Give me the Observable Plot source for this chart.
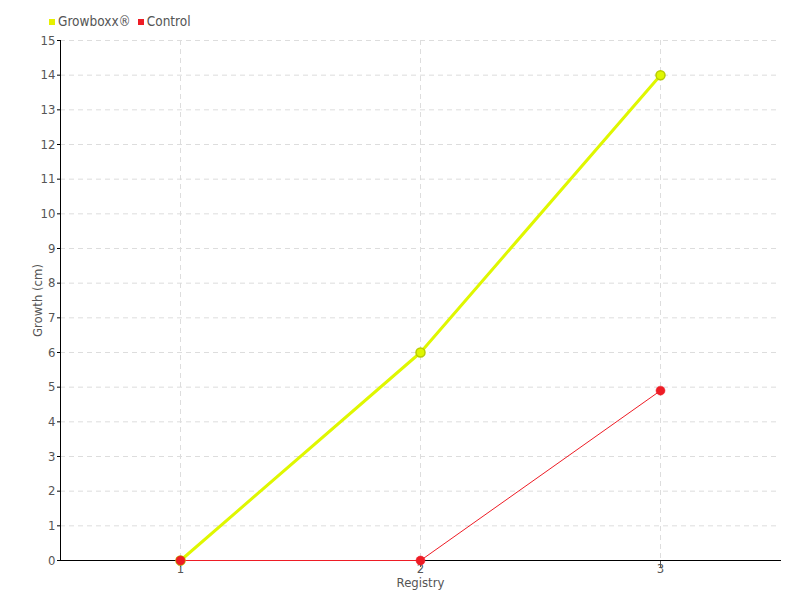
<!DOCTYPE html>
<html><head><meta charset="utf-8">
<script src="https://cdn.jsdelivr.net/npm/d3@7"></script>
<script src="https://cdn.jsdelivr.net/npm/@observablehq/plot@0.6"></script>
<style>
body{margin:0;background:#fff;font-family:"DejaVu Sans",sans-serif;font-stretch:condensed;}
svg text{font-stretch:condensed;}
#wrap{position:relative;width:800px;height:600px;}
#legend{position:absolute;left:49px;top:13px;font-size:13.5px;color:#555;display:flex;gap:7px;align-items:center;font-stretch:condensed;}
#legend span.sw{display:inline-block;width:6px;height:6px;margin-right:3px;vertical-align:middle;}
</style></head>
<body><div id="wrap"><div id="legend"></div></div>
<script>
const registry = [1, 2, 3];
const growboxx = [0, 6, 14];
const control = [0, 0, 4.9];
const yTicks = d3.range(0, 16);
const seriesNames = ["Growboxx®", "Control"];
const colors = ["#dff700", "#ee1c25"];
const swatches = ["#e6f000", "#ee1c25"];
const strokes = ["#b9cc00", "#ee1c25"];

const gData = registry.map((r, i) => ({x: r, y: growboxx[i]}));
const cData = registry.map((r, i) => ({x: r, y: control[i]}));

const plot = Plot.plot({
  width: 800, height: 600,
  marginLeft: 60, marginRight: 20, marginTop: 40, marginBottom: 40,
  style: {fontFamily: '"DejaVu Sans",sans-serif', fontSize: "13px", color: "#555"},
  x: {domain: [0.5, 3.5], ticks: registry},
  y: {domain: [0, 15], ticks: yTicks},
  marks: [
    Plot.gridX(registry, {stroke: "#ddd", strokeOpacity: 1, strokeDasharray: "5,4"}),
    Plot.gridY(yTicks.slice(1), {stroke: "#ddd", strokeOpacity: 1, strokeDasharray: "5,4"}),
    Plot.axisY({ticks: yTicks, tickSize: 3, tickPadding: 2, stroke: "#000", label: "Growth (cm)", labelAnchor: "center", labelArrow: false, labelOffset: 28, fontSize: 13}),
    Plot.axisX({ticks: registry, tickSize: 7, tickPadding: -4, stroke: "#555", tickFormat: d3.format("d"), label: "Registry", labelAnchor: "center", labelArrow: false, labelOffset: 26, fontSize: 13}),
    Plot.frame({anchor: "left", stroke: "#000"}),
    Plot.frame({anchor: "bottom", stroke: "#000"}),
    Plot.line(gData, {x: "x", y: "y", stroke: colors[0], strokeWidth: 3}),
    Plot.line(cData, {x: "x", y: "y", stroke: colors[1], strokeWidth: 1}),
    Plot.dot(gData, {x: "x", y: "y", r: 4.5, fill: colors[0], stroke: strokes[0], strokeWidth: 1.5}),
    Plot.dot(cData, {x: "x", y: "y", r: 4.5, fill: colors[1], stroke: strokes[1], strokeWidth: 0.5})
  ]
});
document.getElementById("wrap").appendChild(plot);
const lg = document.getElementById("legend");
seriesNames.forEach((n, i) => {
  const d = document.createElement("div");
  d.innerHTML = `<span class="sw" style="background:${swatches[i]}"></span>${n}`;
  lg.appendChild(d);
});
</script></body></html>
